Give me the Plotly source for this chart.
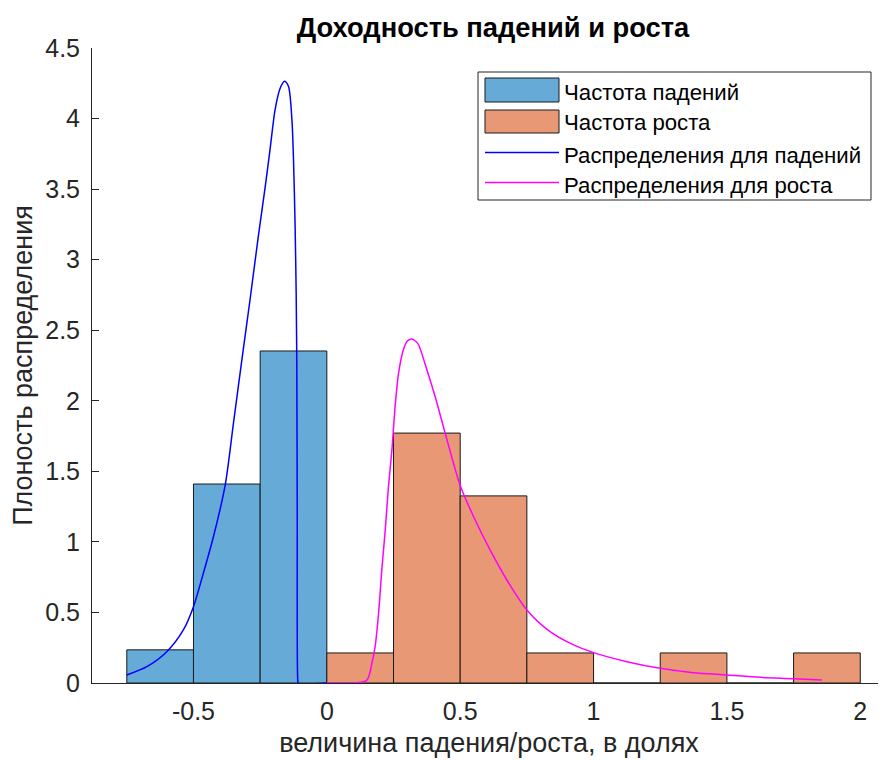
import plotly.graph_objects as go

# ---------------- data ----------------
bin_width = 0.25
fall_centers = [-0.625, -0.375, -0.125]
fall_density = [0.235, 1.41, 2.353]

rise_centers = [0.125, 0.375, 0.625, 0.875, 1.125, 1.375, 1.625, 1.875]
rise_density = [0.213, 1.771, 1.326, 0.213, 0.0, 0.213, 0.0, 0.213]

fall_pdf_x = [-0.75, -0.675, -0.6, -0.538, -0.5, -0.463, -0.425, -0.381, -0.35,
              -0.319, -0.288, -0.257, -0.231, -0.213, -0.194, -0.175, -0.159, -0.144,
              -0.131, -0.125, -0.119, -0.115, -0.1125, -0.111, -0.109, -0.107, 0.0]
fall_pdf_y = [0.057, 0.116, 0.222, 0.376, 0.541, 0.778, 1.038, 1.404, 1.844,
              2.284, 2.716, 3.163, 3.518, 3.78, 4.064, 4.215, 4.265, 4.229,
              3.993, 3.71, 3.236, 2.764, 2.22, 1.2, 0.02, 0.0, 0.0]

rise_pdf_x = [0.0, 0.10, 0.15, 0.169, 0.181, 0.194, 0.206, 0.219, 0.231, 0.244,
              0.256, 0.269, 0.287, 0.303, 0.319, 0.334, 0.344, 0.375, 0.406,
              0.4436, 0.5, 0.55, 0.612, 0.675, 0.75, 0.837, 0.925, 1.0, 1.125,
              1.25, 1.375, 1.5, 1.625, 1.75, 1.856]
rise_pdf_y = [0.0, 0.0, 0.02, 0.14, 0.257, 0.494, 0.80, 1.085, 1.392, 1.652,
              1.96, 2.196, 2.362, 2.425, 2.437, 2.42, 2.397, 2.22, 2.03,
              1.771, 1.40, 1.18, 0.943, 0.73, 0.518, 0.364, 0.27, 0.215, 0.151,
              0.104, 0.073, 0.057, 0.04, 0.031, 0.021]

x_tickvals = [-0.5, 0, 0.5, 1, 1.5, 2]
x_ticktext = ["-0.5", "0", "0.5", "1", "1.5", "2"]
y_tickvals = [0, 0.5, 1, 1.5, 2, 2.5, 3, 3.5, 4, 4.5]
y_ticktext = ["0", "0.5", "1", "1.5", "2", "2.5", "3", "3.5", "4", "4.5"]

legend_names = ["Частота падений", "Частота роста",
                "Распределения для падений", "Распределения для роста"]

title_text = "Доходность падений и роста"
x_label = "величина падения/роста, в долях"
y_label = "Плоность распределения"

# ---------------- style ----------------
FONT = "Liberation Sans, Arial, Helvetica, sans-serif"
AX = "#262626"
BLUE_FILL = "#66AAD7"
ORANGE_FILL = "#E89875"
EDGE = "#1a1a1a"
BLUE_LINE = "#0000FF"
MAG_LINE = "#FF00FF"

# page has an 8px body margin; size figure so that it fills the window
OFF = 8
W, H = 886 - OFF, 760 - OFF
# plot area in page pixels: x 92..886, y 48..683
ML, MR, MT, MB = 92 - OFF, 0, 48 - OFF, 760 - 683
PW, PH = W - ML - MR, H - MT - MB


def px(xp):  # page pixel -> paper x
    return (xp - OFF - ML) / PW


def py(yp):  # page pixel -> paper y
    return (OFF + MT + PH - yp) / PH


fig = go.Figure()
fig.add_trace(go.Bar(x=fall_centers, y=fall_density, width=bin_width,
                     marker=dict(color=BLUE_FILL, line=dict(color=EDGE, width=1)),
                     name=legend_names[0], showlegend=False))
fig.add_trace(go.Bar(x=rise_centers, y=rise_density, width=bin_width,
                     marker=dict(color=ORANGE_FILL, line=dict(color=EDGE, width=1)),
                     name=legend_names[1], showlegend=False))
fig.add_trace(go.Scatter(x=fall_pdf_x, y=fall_pdf_y, mode="lines",
                         line=dict(color=BLUE_LINE, width=1.5, shape="spline", smoothing=0.8),
                         name=legend_names[2], showlegend=False))
fig.add_trace(go.Scatter(x=rise_pdf_x, y=rise_pdf_y, mode="lines",
                         line=dict(color=MAG_LINE, width=1.5, shape="spline", smoothing=0.8),
                         name=legend_names[3], showlegend=False))

# custom MATLAB-style legend
shapes = [
    dict(type="rect", xref="paper", yref="paper", x0=px(478), x1=px(871),
         y0=py(200), y1=py(72), line=dict(color=AX, width=1), fillcolor="white",
         layer="above"),
    dict(type="rect", xref="paper", yref="paper", x0=px(485), x1=px(559),
         y0=py(102), y1=py(78), line=dict(color=EDGE, width=1), fillcolor=BLUE_FILL,
         layer="above"),
    dict(type="rect", xref="paper", yref="paper", x0=px(485), x1=px(559),
         y0=py(133), y1=py(110), line=dict(color=EDGE, width=1), fillcolor=ORANGE_FILL,
         layer="above"),
    dict(type="line", xref="paper", yref="paper", x0=px(485), x1=px(559),
         y0=py(152.5), y1=py(152.5), line=dict(color=BLUE_LINE, width=1.5), layer="above"),
    dict(type="line", xref="paper", yref="paper", x0=px(485), x1=px(559),
         y0=py(182.5), y1=py(182.5), line=dict(color=MAG_LINE, width=1.5), layer="above"),
]
row_y = [92.5, 122.5, 155, 185]
annotations = [
    dict(xref="paper", yref="paper", x=px(562), y=py(ry), text=name,
         showarrow=False, xanchor="left", yanchor="middle",
         font=dict(family=FONT, size=22.2, color="#000000"))
    for name, ry in zip(legend_names, row_y)
]

fig.update_layout(
    width=W, height=H,
    margin=dict(l=ML, r=MR, t=MT, b=MB, pad=0, autoexpand=False),
    paper_bgcolor="white", plot_bgcolor="white",
    barmode="overlay",
    showlegend=False,
    font=dict(family=FONT, color=AX),
    title=dict(text=title_text, x=0.5 + 4 / PW, xref="paper", xanchor="center",
               y=1 - (27 - OFF) / H, yref="container", yanchor="middle",
               font=dict(family=FONT, size=27.3, color="#000000", weight="bold")),
    shapes=shapes,
    annotations=annotations,
)
fig.update_xaxes(range=[-0.8805, 2.0965], showline=True, linecolor=AX, linewidth=1,
                 showgrid=False, zeroline=False, ticks="", automargin=False,
                 tickvals=x_tickvals, ticktext=x_ticktext,
                 tickfont=dict(family=FONT, size=25, color=AX),
                 ticklabelstandoff=6,
                 title=dict(text=x_label, font=dict(family=FONT, size=27, color=AX),
                            standoff=9))
fig.update_yaxes(range=[0, 4.5], showline=True, linecolor=AX, linewidth=1,
                 showgrid=False, zeroline=False, ticks="inside", ticklen=7,
                 tickcolor=AX, tickwidth=1, automargin=False,
                 tickvals=y_tickvals, ticktext=y_ticktext,
                 tickfont=dict(family=FONT, size=25, color=AX),
                 ticklabelstandoff=6,
                 title=dict(text=y_label, font=dict(family=FONT, size=27, color=AX),
                            standoff=8))

fig.write_html("out.html", config={"displayModeBar": False})
